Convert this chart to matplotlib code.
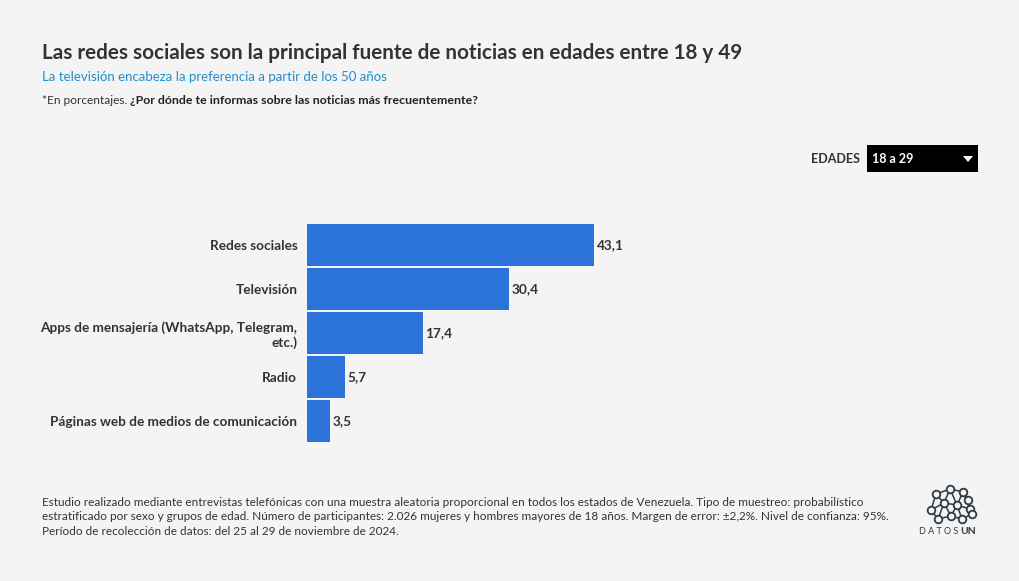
import matplotlib.pyplot as plt
from matplotlib.patches import Rectangle, Polygon
from matplotlib.lines import Line2D

categories = ["Redes sociales", "Televisión",
              "Apps de mensajería (WhatsApp, Telegram,\netc.)",
              "Radio", "Páginas web de medios de comunicación"]
values = [43.1, 30.4, 17.4, 5.7, 3.5]

W, H = 1020, 581
BG = "#f4f4f4"
BAR = "#2b73db"
DARK = "#333333"
FONT = ["Lato", "DejaVu Sans"]
plt.rcParams["font.family"] = FONT

fig = plt.figure(figsize=(W / 100, H / 100), dpi=100, facecolor=BG)


def fx(px):
    return px / W


def fy(py):
    return 1 - py / H


# titles
fig.text(fx(42), fy(53), "Las redes sociales son la principal fuente de noticias en edades entre 18 y 49",
         fontsize=14.85, fontweight="bold", color=DARK, va="center")
fig.text(fx(42), fy(77), "La televisión encabeza la preferencia a partir de los 50 años",
         fontsize=9.5, color="#1f8fcf", va="center")
t = fig.text(fx(42), fy(100), "*En porcentajes. ", fontsize=8.6, color=DARK, va="center")
fig.canvas.draw()
bb = t.get_window_extent()
fig.text(bb.x1 / W, fy(100), "¿Por dónde te informas sobre las noticias más frecuentemente?",
         fontsize=8.9, fontweight="bold", color="#222222", va="center")

# dropdown
fig.text(fx(860), fy(159), "EDADES", fontsize=9, fontweight="bold", color=DARK,
         ha="right", va="center")
fig.patches.append(Rectangle((fx(867), fy(172)), fx(111), 27 / H, transform=fig.transFigure,
                             facecolor="black", edgecolor="none"))
fig.text(fx(872), fy(159), "18 a 29", fontsize=9, fontweight="bold", color="white", va="center")
fig.patches.append(Polygon([(fx(963), fy(156)), (fx(973), fy(156)), (fx(968), fy(162))],
                           closed=True, transform=fig.transFigure, facecolor="white",
                           edgecolor="none"))

# chart
ax = fig.add_axes([fx(307), fy(443), fx(671), 220 / H])
ax.set_facecolor(BG)
y = list(range(len(values)))
ax.barh(y, values, height=42 / 44, color=BAR)
ax.set_xlim(0, 100.8)
ax.set_ylim(len(values) - 0.5, -0.5)
ax.set_yticks(y)
ax.set_yticklabels(categories, fontsize=9.8, fontweight="bold", color=DARK)
ax.tick_params(axis="y", length=0, pad=7)
ax.set_xticks([])
for s in ax.spines.values():
    s.set_visible(False)
for yi, v in zip(y, values):
    ax.text(v + 0.4, yi, f"{v:.1f}".replace(".", ","), fontsize=9.8, fontweight="bold",
            color=DARK, va="center", ha="left")

# footer
fig.text(fx(42), fy(517),
         "Estudio realizado mediante entrevistas telefónicas con una muestra aleatoria proporcional en todos los estados de Venezuela. Tipo de muestreo: probabilístico\n"
         "estratificado por sexo y grupos de edad. Número de participantes: 2.026 mujeres y hombres mayores de 18 años. Margen de error: ±2,2%. Nivel de confianza: 95%.\n"
         "Período de recolección de datos: del 25 al 29 de noviembre de 2024.",
         fontsize=8.5, color=DARK, va="center", linespacing=1.4)

# logo
nodes = [(936, 494), (950, 489), (963, 492), (968, 500), (931, 510), (944, 503),
         (957, 505), (970, 509), (938, 519), (951, 516), (962, 519), (972, 514)]
edges = [(0, 1), (1, 2), (2, 3), (0, 4), (0, 5), (1, 5), (1, 6), (2, 6), (3, 7), (2, 7),
         (4, 5), (5, 6), (6, 7), (4, 8), (5, 9), (6, 9), (6, 10), (7, 11), (8, 9), (9, 10),
         (10, 11), (5, 8), (3, 11)]
lc = "#2e3a44"
for a, b in edges:
    fig.lines.append(Line2D([fx(nodes[a][0]), fx(nodes[b][0])], [fy(nodes[a][1]), fy(nodes[b][1])],
                            transform=fig.transFigure, color=lc, lw=1.1))
for (px, py) in nodes:
    fig.lines.append(Line2D([fx(px)], [fy(py)], transform=fig.transFigure, marker="o",
                            markersize=5.5, markerfacecolor=BG, markeredgecolor=lc,
                            markeredgewidth=1.3, linestyle="none"))
fig.text(fx(958), fy(532), "D A T O S", fontsize=6.5, color=lc, ha="right", va="center")
fig.text(fx(960), fy(532), "UN", fontsize=7.5, fontweight="bold", color=lc, ha="left", va="center")

fig.savefig("out.png", dpi=100, facecolor=BG)
